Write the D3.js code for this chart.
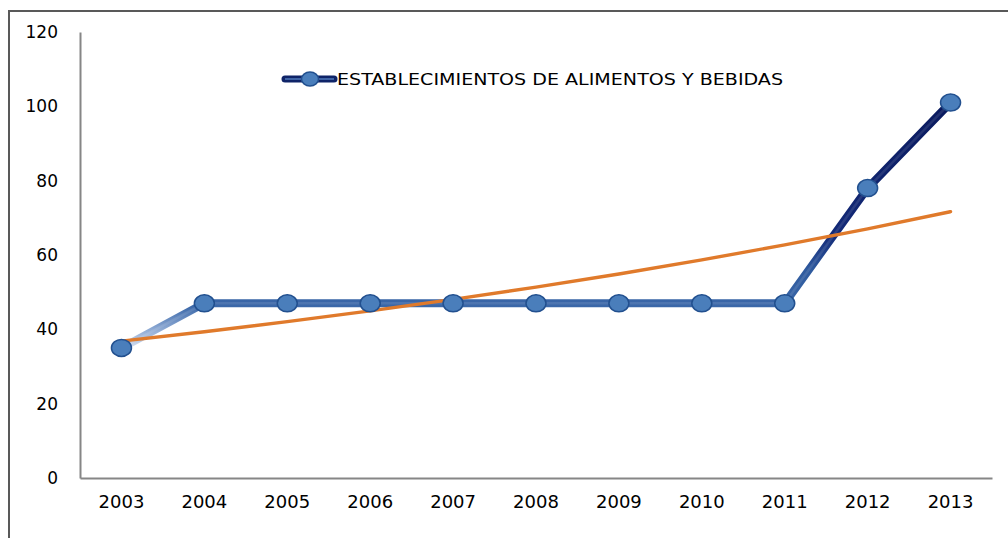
<!DOCTYPE html>
<html>
<head>
<meta charset="utf-8">
<script src="https://cdn.jsdelivr.net/npm/d3@7"></script>
<style>
  body { margin: 0; background: #fff; }
  svg { display: block; }
</style>
</head>
<body>
<svg id="mainsvg" width="1008" height="538"></svg>
<script>
const years = ['2003','2004','2005','2006','2007','2008','2009','2010','2011','2012','2013']
const values = [35, 47, 47, 47, 47, 47, 47, 47, 47, 78, 101]
const yTicks = [0, 20, 40, 60, 80, 100, 120]
const seriesName = 'ESTABLECIMIENTOS DE ALIMENTOS Y BEBIDAS'

const svg = d3.select('#mainsvg')
const font = 'DejaVu Sans'

// outer frame (only top and left edges show in the picture)
svg.append('path')
  .attr('d', 'M9,538 L9,11 L1008,11')
  .attr('fill', 'none')
  .attr('stroke', '#595959')
  .attr('stroke-width', 2)

const x = d3.scaleBand().domain(years).range([80, 992])
const y = d3.scaleLinear().domain([0, 120]).range([478, 32])
const cx = d => x(d) + x.bandwidth() / 2

// axes
const yAxis = svg.append('g')
  .attr('transform', 'translate(80,0)')
  .call(d3.axisLeft(y).tickValues(yTicks).tickSize(0).tickPadding(22))
const xAxis = svg.append('g')
  .attr('transform', 'translate(0,478)')
  .call(d3.axisBottom(x).tickSize(0).tickPadding(17))
;[yAxis, xAxis].forEach(a => {
  a.select('.domain').attr('stroke', '#868686').attr('stroke-width', 2)
  a.selectAll('text').attr('font-family', font).attr('font-size', 17).attr('fill', '#000')
})
xAxis.selectAll('text').attr('font-size', 18)

// gradient for the series line, dark at the top and light at the bottom
const defs = svg.append('defs')
const grad = defs.append('linearGradient')
  .attr('id', 'lineGrad')
  .attr('gradientUnits', 'userSpaceOnUse')
  .attr('x1', 0).attr('x2', 0)
  .attr('y1', y(35)).attr('y2', y(101))
const stops = [[0, '#d3def0'], [0.08, '#8aa7d2'], [0.17, '#3a67a8'], [0.32, '#2f5a9e'], [0.46, '#132a78'], [1, '#0a1a5e']]
stops.forEach(s => grad.append('stop').attr('offset', s[0]).attr('stop-color', s[1]))

const pts = years.map((d, i) => [cx(d), y(values[i])])
const line = d3.line()

svg.append('path')
  .attr('d', line(pts))
  .attr('fill', 'none')
  .attr('stroke', 'url(#lineGrad)')
  .attr('stroke-width', 8)
  .attr('stroke-linejoin', 'round')
  .attr('stroke-linecap', 'round')

svg.append('path')
  .attr('d', line(pts))
  .attr('fill', 'none')
  .attr('stroke', '#ffffff')
  .attr('stroke-opacity', 0.1)
  .attr('stroke-width', 2.5)

// exponential trend line fitted to the series
const n = values.length
const lx = d3.range(n)
const ly = values.map(v => Math.log(v))
const mx = d3.mean(lx), my = d3.mean(ly)
const b = d3.sum(lx, i => (i - mx) * (ly[i] - my)) / d3.sum(lx, i => (i - mx) * (i - mx))
const a = my - b * mx
const trend = years.map((d, i) => [cx(d), y(Math.exp(a + b * i))])

svg.append('path')
  .attr('d', d3.line().curve(d3.curveMonotoneX)(trend))
  .attr('fill', 'none')
  .attr('stroke', '#e07a2b')
  .attr('stroke-width', 3.4)
  .attr('stroke-linecap', 'round')

// markers
svg.append('g').selectAll('ellipse')
  .data(pts)
  .join('ellipse')
  .attr('cx', d => d[0])
  .attr('cy', d => d[1])
  .attr('rx', 10)
  .attr('ry', 8.5)
  .attr('fill', '#4a7ebb')
  .attr('stroke', '#22508f')
  .attr('stroke-width', 1.5)

// legend
const lg = svg.append('g').attr('transform', 'translate(283,79)')
lg.append('line')
  .attr('x1', 2).attr('x2', 51).attr('y1', 0).attr('y2', 0)
  .attr('stroke', '#0f2468').attr('stroke-width', 7).attr('stroke-linecap', 'round')
lg.append('line')
  .attr('x1', 2).attr('x2', 51).attr('y1', 0).attr('y2', 0)
  .attr('stroke', '#3f64a6').attr('stroke-width', 2)
lg.append('ellipse')
  .attr('cx', 27).attr('cy', 0).attr('rx', 8.5).attr('ry', 7)
  .attr('fill', '#4a7ebb').attr('stroke', '#22508f').attr('stroke-width', 1.5)
lg.append('text')
  .attr('x', 54).attr('y', 0)
  .attr('dy', '0.35em')
  .attr('font-family', font)
  .attr('font-size', 16.5)
  .attr('fill', '#000')
  .attr('textLength', 446)
  .attr('lengthAdjust', 'spacingAndGlyphs')
  .text(seriesName)
</script>
</body>
</html>
